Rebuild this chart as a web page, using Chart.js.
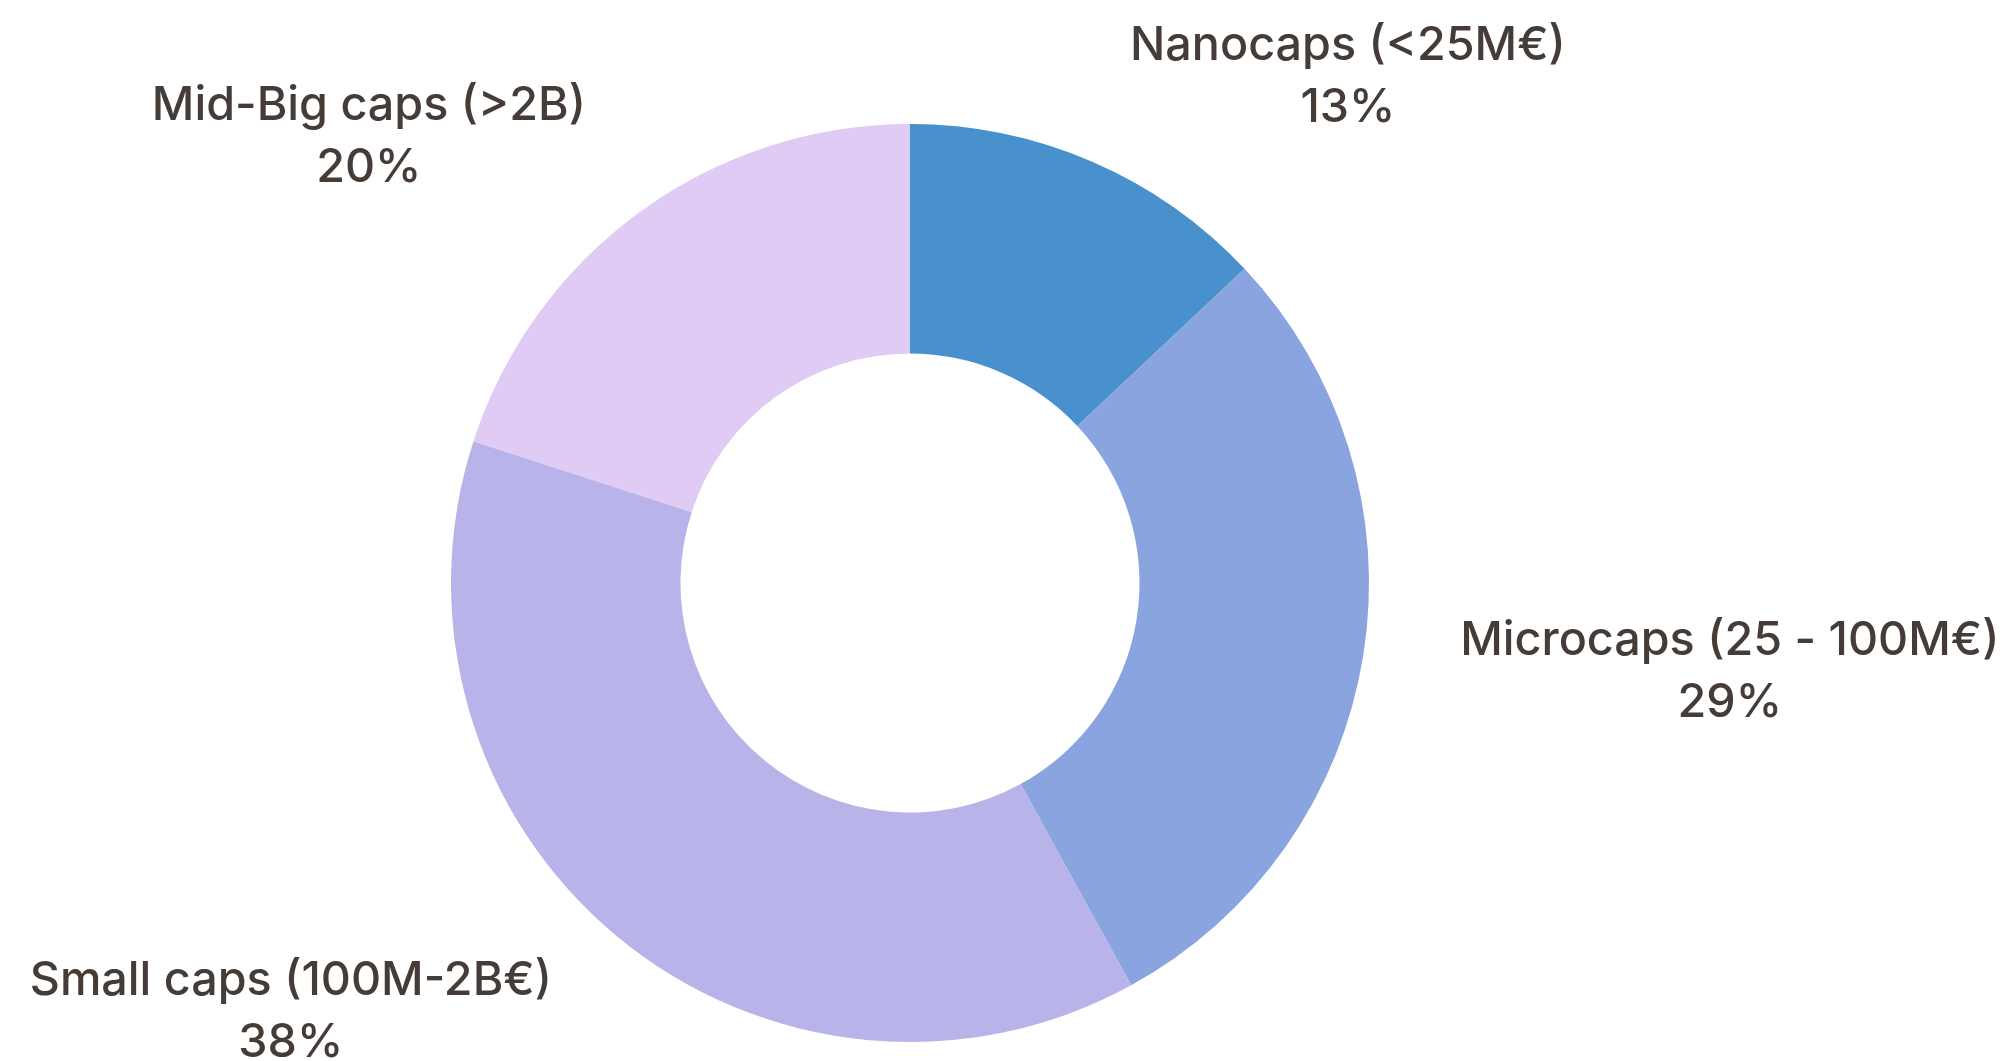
<!DOCTYPE html>
<html>
<head>
<meta charset="utf-8">
<script src="https://cdn.jsdelivr.net/npm/chart.js@4"></script>
<style>
  html, body { margin: 0; padding: 0; background: #fff; }
  #wrap { width: 2010px; height: 1061px; }
</style>
</head>
<body>
<div id="wrap"><canvas id="chart1"></canvas></div>
<script>
// CHART DATA
// -----------------------------
let categories = ['Nanocaps (<25M€)', 'Microcaps (25 - 100M€)', 'Small caps (100M-2B€)', 'Mid-Big caps (>2B)'];
let shares = [13, 29, 38, 20];
let colors = ['#4891CD', '#8AA4DF', '#B8B4E9', '#DFCBF3'];

// label anchors, in units of the outer radius from the ring centre
let labelOffsets = [[0.954, -1.109], [1.786, 0.187], [-1.349, 0.928], [-1.179, -0.978]];

// LABEL PLUGIN
// -----------------------------
const outsideLabels = {
  id: 'outsideLabels',
  afterDraw(chart) {
    const ctx = chart.ctx;
    const meta = chart.getDatasetMeta(0);
    const total = shares.reduce((a, b) => a + b, 0);
    ctx.save();
    ctx.fillStyle = '#453C37';
    ctx.font = '500 46.7px Inter';
    ctx.textAlign = 'center';
    ctx.textBaseline = 'alphabetic';
    meta.data.forEach((arc, i) => {
      const r = arc.outerRadius;
      const x = arc.x + labelOffsets[i][0] * r;
      const y = arc.y + labelOffsets[i][1] * r;
      ctx.fillText(categories[i], x, y - 14);
      ctx.fillText(Math.round(shares[i] / total * 100) + '%', x, y + 48);
    });
    ctx.restore();
  }
};

// RENDER CHART
// -----------------------------
new Chart(document.getElementById('chart1'), {
  type: 'doughnut',
  data: {
    labels: categories,
    datasets: [{
      data: shares,
      backgroundColor: colors,
      borderWidth: 0,
      hoverOffset: 0,
      offset: 0
    }]
  },
  options: {
    responsive: true,
    maintainAspectRatio: false,
    animation: false,
    cutout: '50%',
    layout: {
      padding: { top: 124, bottom: 19, left: 0, right: 190 }
    },
    plugins: {
      legend: { display: false },
      tooltip: { enabled: false }
    }
  },
  plugins: [outsideLabels]
});
</script>
</body>
</html>
